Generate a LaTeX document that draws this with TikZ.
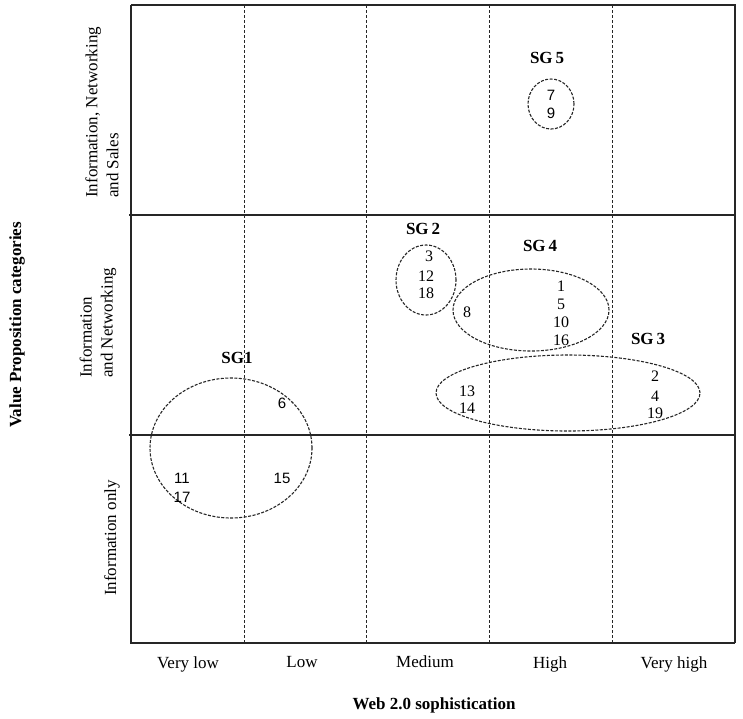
\documentclass[tikz,border=0pt]{standalone}
\usepackage{fontspec}
\setmainfont{Liberation Serif}
\newfontfamily\arialf{Liberation Sans}
\usetikzlibrary{shapes.geometric}
\tikzset{
  gridline/.style={line width=1.3pt, draw=black!85},
  griddash/.style={line width=1pt, draw=black!85, dash pattern=on 3pt off 2pt},
  grp/.style={ellipse, draw=black!85, line width=1.1pt, dash pattern=on 3pt off 1.5pt, inner sep=0pt},
  num/.style={font=\fontsize{16}{17}\selectfont, inner sep=0pt},
  snum/.style={font=\arialf\fontsize{15}{16}\selectfont, inner sep=0pt},
  sglab/.style={font=\bfseries\fontsize{17}{19}\selectfont, inner sep=0pt},
  axlab/.style={font=\fontsize{17}{21}\selectfont, inner sep=0pt},
  axtitle/.style={font=\bfseries\fontsize{17}{19}\selectfont, inner sep=0pt}
}
\begin{document}
\begin{tikzpicture}[x=1pt,y=-1pt]
\useasboundingbox[fill=white] (0,0) rectangle (743,718);
% grid
\draw[griddash] (244,5) -- (244,643);
\draw[griddash] (366,5) -- (366,643);
\draw[griddash] (489,5) -- (489,643);
\draw[griddash] (612,5) -- (612,643);
\draw[gridline] (131,5) -- (735,5) -- (735,643);
\draw[gridline] (131,5) -- (131,643) -- (735,643);
\draw[gridline] (129,215) -- (735,215);
\draw[gridline] (129,435) -- (735,435);
% groups
\node[grp, minimum width=46pt, minimum height=50pt] (g5) at (551,104) {};
\node[grp, minimum width=60pt, minimum height=70pt] (g2) at (426,280) {};
\node[grp, minimum width=156pt, minimum height=82pt] (g4) at (531,310) {};
\node[grp, minimum width=264pt, minimum height=76pt] (g3) at (568,393) {};
\node[grp, minimum width=162pt, minimum height=140pt] (g1) at (231,448) {};
% group labels
\node[sglab] (l5) at (547,58) {SG\,5};
\node[sglab] (l2) at (423,229) {SG\,2};
\node[sglab] (l4) at (540,246) {SG\,4};
\node[sglab] (l3) at (648,339) {SG\,3};
\node[sglab] (l1) at (237,358) {SG1};
% numbers
\node[snum] (n7) at (551,95) {7};
\node[snum] (n9) at (551,113) {9};
\node[num] (n3) at (429,256) {3};
\node[num] (n12) at (426,276) {12};
\node[num] (n18) at (426,293) {18};
\node[num] (n8) at (467,312) {8};
\node[num] (n1) at (561,286) {1};
\node[num] (n5) at (561,304) {5};
\node[num] (n10) at (561,322) {10};
\node[num] (n16) at (561,340) {16};
\node[num] (n13) at (467,391) {13};
\node[num] (n14) at (467,408) {14};
\node[num] (n2) at (655,376) {2};
\node[num] (n4) at (655,396) {4};
\node[num] (n19) at (655,413) {19};
\node[snum] (n6) at (282,403) {6};
\node[snum] (n11) at (182,478) {11};
\node[snum] (n17) at (182,497) {17};
\node[snum] (n15) at (282,478) {15};
% x axis labels
\node[axlab] (vl) at (188,664) {Very low};
\node[axlab] (lo) at (302,662) {Low};
\node[axlab] (me) at (425,662) {Medium};
\node[axlab] (hi) at (550,664) {High};
\node[axlab] (vh) at (674,664) {Very high};
\node[axtitle] (xt) at (434,705) {Web 2.0 sophistication};
% y axis labels
\node[axlab, rotate=90, align=left, anchor=west] (ya) at (102,198) {Information, Networking\\and Sales};
\node[axlab, rotate=90, align=left, anchor=west] (yb) at (98,378) {Information\\and Networking};
\node[axlab, rotate=90] (yc) at (112,538) {Information only};
\node[axtitle, rotate=90] (yt) at (17,325) {Value Proposition categories};
\end{tikzpicture}
\end{document}
